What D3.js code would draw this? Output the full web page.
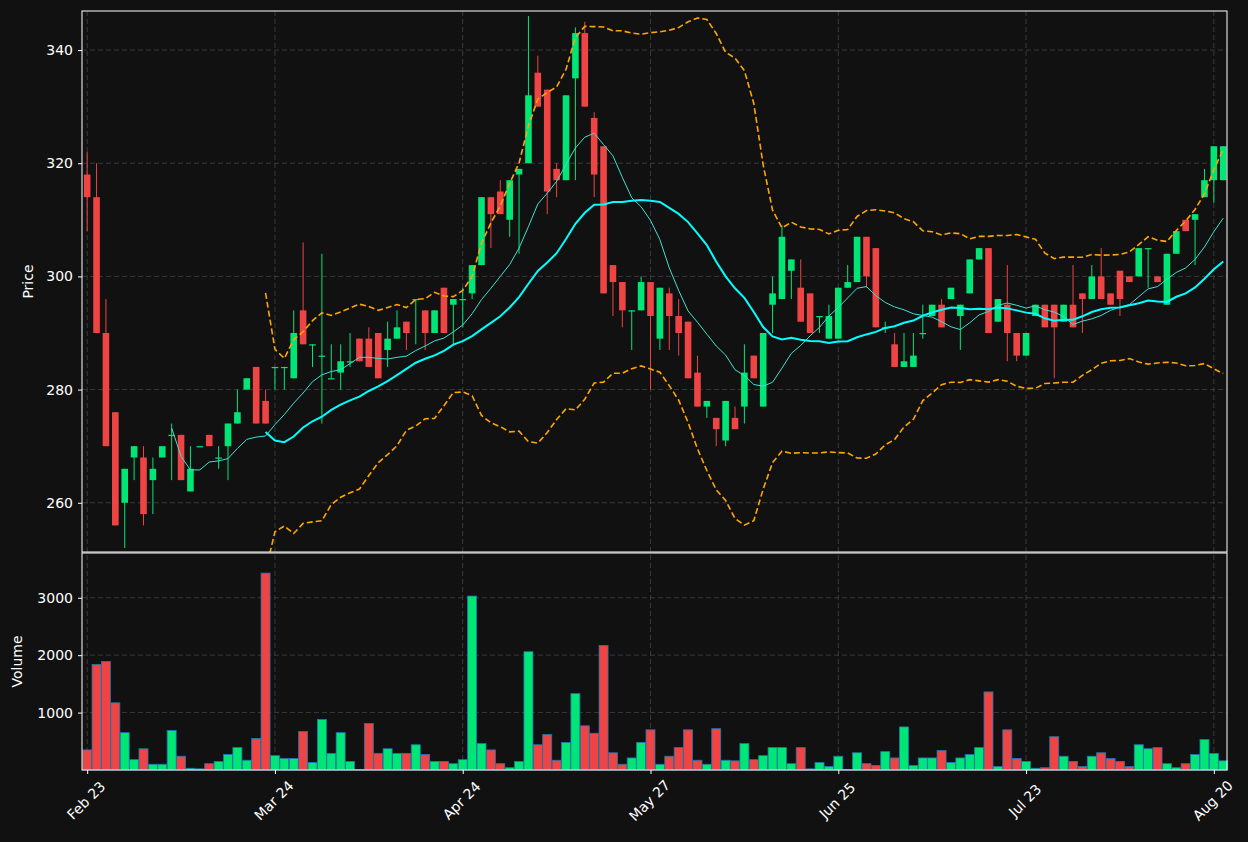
<!DOCTYPE html>
<html>
<head>
<meta charset="utf-8">
<script src="https://cdn.jsdelivr.net/npm/d3@7"></script>
<style>
  body { margin: 0; background: #111111; }
  text { font-family: "DejaVu Sans", sans-serif; }
</style>
</head>
<body>
<svg id="chart" width="1248" height="842"></svg>
<script>
// OHLCV, one entry per trading day (index based x axis)
var opens  = [318,314,290,276,260,268,268,264,268,272,272,262,270,272,268,270,274,280,284,278,
              284,284,282,294,288,286,282,283,285,289,289,290,287,289,292,296,294,290,298,295,
              296,297,302,314,315,310,318,320,336,333,319,317,335,343,328,323,302,299,294,294,
              299,289,297,293,292,283,277,275,271,275,277,286,277,295,296,301,298,297,293,289,
              289,298,299,307,305,291,288,284,284,290,293,295,296,293,297,303,305,292,295,290,
              286,293,295,295,292,295,297,296,300,297,301,300,300,305,300,295,304,310,310,314,
              317,317];
var closes = [314,290,270,256,266,270,258,266,270,272,264,266,270,270,268,274,276,282,274,274,
              284,284,290,288,288,286,282,285,285,285,284,282,289,291,290,296,290,294,290,296,
              296,302,314,311,311,317,319,332,330,315,317,332,343,330,318,297,299,294,294,299,
              293,298,293,290,282,277,278,273,278,273,283,282,290,297,307,303,292,290,293,293,
              298,299,307,300,291,291,284,285,286,290,295,291,298,295,303,305,290,296,290,286,
              290,295,291,291,295,291,296,300,296,295,296,299,305,305,299,304,308,308,311,317,
              323,323];
var highs  = [322,320,296,276,266,270,270,268,270,274,272,270,270,272,270,274,280,282,284,280,
              284,284,294,306,288,304,288,288,290,289,291,290,292,294,292,296,294,294,298,296,
              298,302,314,314,317,317,319,346,339,333,320,332,344,345,329,323,302,299,294,300,
              299,298,298,296,292,286,278,275,278,277,288,286,290,300,309,303,303,297,293,295,
              298,302,307,307,305,292,290,290,290,295,295,296,298,295,303,305,305,296,302,290,
              290,295,295,295,295,302,297,302,305,297,301,300,305,305,300,304,308,310,311,319,
              323,323];
var lows   = [308,290,270,256,252,264,256,258,270,264,264,262,270,270,266,264,274,280,274,274,
              280,280,282,288,284,274,282,280,284,285,284,282,284,289,287,288,287,290,290,288,
              291,296,302,305,311,307,304,320,330,311,314,317,317,330,314,297,293,291,287,294,
              280,287,287,286,282,277,275,270,270,273,274,282,277,290,296,296,292,290,290,289,
              289,298,299,298,291,290,284,284,284,289,293,291,296,287,297,303,290,292,285,285,
              286,293,291,282,292,291,290,296,296,295,293,299,300,298,299,295,304,308,302,314,
              313,317];
var volumes = [350,1840,1890,1170,650,180,370,100,100,690,240,30,20,110,150,270,390,170,550,3430,
               250,200,200,670,130,880,290,650,150,10,810,290,370,290,290,440,270,150,150,110,
               180,3030,460,350,110,40,150,2060,440,620,170,480,1330,770,640,2170,300,100,210,480,
               700,100,240,390,700,170,100,720,170,160,460,180,250,390,390,110,390,20,130,60,
               240,10,300,110,80,320,210,750,80,210,210,340,130,210,270,390,1360,60,700,200,
               150,30,40,580,240,150,60,240,300,200,150,60,440,370,390,110,40,110,270,530,
               290,160];
var tickIdx = [0, 20, 40, 60, 80, 100, 120];
var tickLabels = ["Feb 23", "Mar 24", "Apr 24", "May 27", "Jun 25", "Jul 23", "Aug 20"];
var priceTicks = [260, 280, 300, 320, 340];
var volTicks = [1000, 2000, 3000];

var upColor = "#00e676", downColor = "#ef4444";
var svg = d3.select("#chart");
var left = 82, right = 1227;
var pTop = 11, pBot = 552, vTop = 553, vBot = 770;

var data = opens.map(function(o, i) {
  return {i: i, o: o, c: closes[i], h: highs[i], l: lows[i], v: volumes[i]};
});

// moving averages and bollinger bands
function rolling(n, fn) {
  return data.map(function(d, i) {
    if (i < n - 1) return null;
    return fn(closes.slice(i - n + 1, i + 1));
  });
}
var ma10 = rolling(10, d3.mean);
var ma20 = rolling(20, d3.mean);
var sd20 = rolling(20, d3.deviation);
var bbUp = ma20.map(function(m, i) { return m == null ? null : m + 2 * sd20[i]; });
var bbLo = ma20.map(function(m, i) { return m == null ? null : m - 2 * sd20[i]; });

var x = d3.scaleLinear().domain([-0.55, 121.4]).range([left, right]);
var y = d3.scaleLinear().domain([251.3, 346.9]).range([pBot, pTop]);
var yv = d3.scaleLinear().domain([0, 3780]).range([vBot, vTop]);

svg.append("defs").append("clipPath").attr("id", "pclip")
  .append("rect").attr("x", left).attr("y", pTop).attr("width", right - left).attr("height", pBot - pTop);

// grids
var grid = svg.append("g").attr("stroke", "#444").attr("stroke-dasharray", "5,3").attr("stroke-width", 0.8);
tickIdx.forEach(function(t) {
  grid.append("line").attr("x1", x(t)).attr("x2", x(t)).attr("y1", pTop).attr("y2", vBot);
});
priceTicks.forEach(function(t) {
  grid.append("line").attr("x1", left).attr("x2", right).attr("y1", y(t)).attr("y2", y(t));
});
volTicks.forEach(function(t) {
  grid.append("line").attr("x1", left).attr("x2", right).attr("y1", yv(t)).attr("y2", yv(t));
});

// candles
var pg = svg.append("g").attr("clip-path", "url(#pclip)");
pg.selectAll(".wick").data(data).enter().append("line")
  .attr("x1", function(d) { return x(d.i); })
  .attr("x2", function(d) { return x(d.i); })
  .attr("y1", function(d) { return y(d.h); })
  .attr("y2", function(d) { return y(d.l); })
  .attr("stroke", function(d) { return d.c >= d.o ? upColor : downColor; })
  .attr("stroke-width", 1);
pg.selectAll(".body").data(data).enter().append("rect")
  .attr("x", function(d) { return x(d.i) - 3.3; })
  .attr("width", 6.6)
  .attr("y", function(d) { return y(Math.max(d.o, d.c)); })
  .attr("height", function(d) { return Math.max(1.2, Math.abs(y(d.o) - y(d.c))); })
  .attr("fill", function(d) { return d.c >= d.o ? upColor : downColor; });

function addLine(vals, color, width, dash) {
  var line = d3.line()
    .defined(function(v) { return v != null; })
    .x(function(v, i) { return x(i); })
    .y(function(v) { return y(v); });
  var p = pg.append("path").datum(vals)
    .attr("fill", "none").attr("stroke", color).attr("stroke-width", width)
    .attr("d", line);
  if (dash) p.attr("stroke-dasharray", dash);
}
addLine(ma10, "#40e0d0", 1, null);
addLine(ma20, "#00ffff", 2, null);
addLine(bbUp, "#ffa500", 1.6, "6,3");
addLine(bbLo, "#ffa500", 1.6, "6,3");

// volume
svg.append("g").selectAll("rect").data(data).enter().append("rect")
  .attr("x", function(d) { return x(d.i) - 4.5; })
  .attr("width", 9)
  .attr("y", function(d) { return yv(d.v); })
  .attr("height", function(d) { return vBot - yv(d.v); })
  .attr("fill", function(d) { return d.c >= d.o ? upColor : downColor; })
  .attr("stroke", "#1f77b4").attr("stroke-width", 0.8);

// frames
[[pTop, pBot], [vTop, vBot]].forEach(function(r) {
  svg.append("rect").attr("x", left).attr("y", r[0]).attr("width", right - left).attr("height", r[1] - r[0])
    .attr("fill", "none").attr("stroke", "#ffffff").attr("stroke-width", 1);
});

// axes
function styleAxis(g) {
  g.select(".domain").remove();
  g.selectAll("line").attr("stroke", "#ffffff");
  g.selectAll("text").attr("fill", "#ffffff").style("font-size", "14px");
}
svg.append("g").attr("transform", "translate(" + left + ",0)")
  .call(d3.axisLeft(y).tickValues(priceTicks).tickSize(4).tickPadding(5))
  .call(styleAxis);
svg.append("g").attr("transform", "translate(" + left + ",0)")
  .call(d3.axisLeft(yv).tickValues(volTicks).tickSize(4).tickPadding(5).tickFormat(d3.format("d")))
  .call(styleAxis);
var xa = svg.append("g").attr("transform", "translate(0," + vBot + ")")
  .call(d3.axisBottom(x).tickValues(tickIdx).tickSize(4)
    .tickFormat(function(d, k) { return tickLabels[k]; }))
  .call(styleAxis);
xa.selectAll("text")
  .attr("text-anchor", "middle")
  .attr("transform", "translate(-10,22) rotate(-45)");

svg.append("text").attr("transform", "translate(33," + (pTop + pBot) / 2 + ") rotate(-90)")
  .attr("text-anchor", "middle").attr("fill", "#fff").style("font-size", "14px").text("Price");
svg.append("text").attr("transform", "translate(22," + (vTop + vBot) / 2 + ") rotate(-90)")
  .attr("text-anchor", "middle").attr("fill", "#fff").style("font-size", "14px").text("Volume");
</script>
</body>
</html>
